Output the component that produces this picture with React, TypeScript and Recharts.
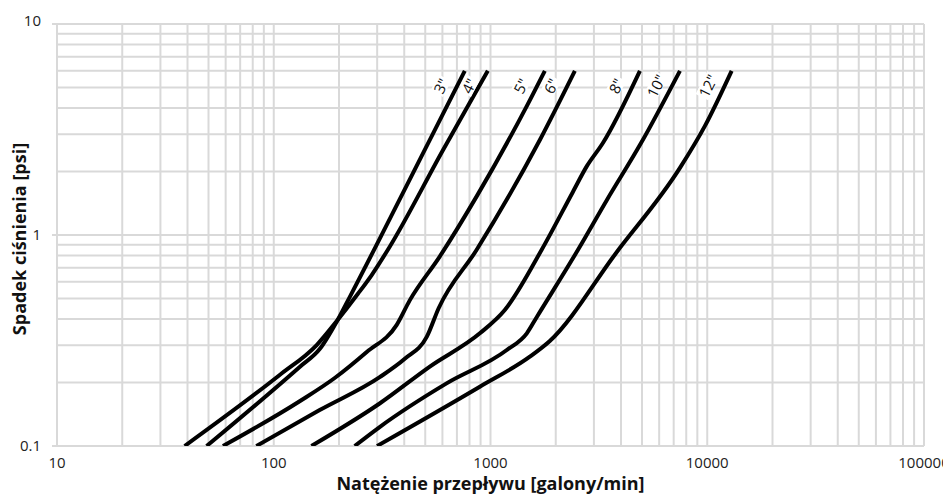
import React from 'react';
import { LineChart, Line, XAxis, YAxis, CartesianGrid } from 'recharts';

const FONT = '"Open Sans", "Noto Sans", sans-serif';

// pipe sizes (labels at the top of each curve)
const SIZES = ['3"', '4"', '5"', '6"', '8"', '10"', '12"'];

// flow [gal/min] and pressure drop [psi]
const FLOW_3 = [49, 131.7, 162.9, 197.2, 224.1, 410.9, 761];
const DROP_3 = [0.1, 0.237, 0.288, 0.396, 0.508, 1.72, 6];

const FLOW_4 = [38.8, 106.5, 157.8, 197.2, 244, 283, 342.8, 604, 972];
const DROP_4 = [0.1, 0.217, 0.301, 0.396, 0.525, 0.646, 0.88, 2.53, 6];

const FLOW_5 = [58.3, 131.7, 191.1, 268.5, 369.3, 424, 583, 862, 1466, 1781];
const DROP_5 = [0.1, 0.163, 0.21, 0.279, 0.375, 0.49, 0.79, 1.52, 4.06, 6];

const FLOW_6 = [83.1, 162.9, 308.2, 402.2, 507.9, 577.1, 862, 1689, 2451];
const DROP_6 = [0.1, 0.148, 0.212, 0.259, 0.329, 0.451, 0.849, 2.82, 6];

const FLOW_8 = [149.2, 308, 525, 893, 1164, 1720, 2399, 2783, 3300, 4890];
const DROP_8 = [0.1, 0.159, 0.238, 0.342, 0.441, 0.849, 1.6, 2.12, 2.73, 6];

const FLOW_10 = [236.3, 308, 627, 1189, 1471, 1636, 2530, 3444, 4942, 7482];
const DROP_10 = [0.1, 0.123, 0.198, 0.285, 0.342, 0.409, 0.849, 1.466, 2.72, 6];

const FLOW_12 = [299.5, 893, 1519, 1878, 3789, 7482, 9759, 12960];
const DROP_12 = [0.1, 0.191, 0.265, 0.3145, 0.82, 2.08, 3.29, 6];

const FLOWS = [FLOW_3, FLOW_4, FLOW_5, FLOW_6, FLOW_8, FLOW_10, FLOW_12];
const DROPS = [DROP_3, DROP_4, DROP_5, DROP_6, DROP_8, DROP_10, DROP_12];

// log grid
const X_TICKS = [
  10, 20, 30, 40, 50, 60, 70, 80, 90,
  100, 200, 300, 400, 500, 600, 700, 800, 900,
  1000, 2000, 3000, 4000, 5000, 6000, 7000, 8000, 9000,
  10000, 20000, 30000, 40000, 50000, 60000, 70000, 80000, 90000,
  100000,
];
const Y_TICKS = [0.1, 0.2, 0.3, 0.4, 0.5, 0.6, 0.7, 0.8, 0.9, 1, 2, 3, 4, 5, 6, 7, 8, 9, 10];
const X_LABELS = [10, 100, 1000, 10000, 100000];
const Y_LABELS = [0.1, 1, 10];

// the 4" tag sits a little closer to its line so it clears the 3" curve
const TAG_NUDGE: Record<string, number> = { '4"': 5 };

const series = SIZES.map((name, i) => ({
  name,
  points: FLOWS[i].map((flow, j) => ({ flow, drop: DROPS[i][j] })),
})).reverse();

const XTick = (props: any) => {
  const { x, y, payload } = props;
  if (!X_LABELS.includes(payload.value)) return <g />;
  return (
    <text x={x} y={y} dy="0.35em" textAnchor="middle" fontSize={15} fill="#222" fontFamily={FONT}>
      {payload.value}
    </text>
  );
};

const YTick = (props: any) => {
  const { x, y, payload } = props;
  if (!Y_LABELS.includes(payload.value)) return <g />;
  const lift = payload.value === 10 ? -3 : 0;
  return (
    <g>
      <line x1={x + 11} x2={x + 16} y1={y} y2={y} stroke="#d9d9d9" strokeWidth={2} />
      <text x={x} y={y + lift} dy="0.35em" textAnchor="end" fontSize={15} fill="#222" fontFamily={FONT}>
        {payload.value}
      </text>
    </g>
  );
};

// size tag drawn at the top end of each curve
const tagDot = (name: string, last: number) => (p: any) => {
  if (p.index !== last) return <g key={`d-${name}-${p.index}`} />;
  const cx = p.cx - 24 + (TAG_NUDGE[name] || 0);
  const cy = p.cy + 15;
  const w = name.length * 7.5 + 3;
  return (
    <g key={`d-${name}-${p.index}`} transform={`translate(${cx},${cy}) rotate(-63)`}>
      <rect x={-w / 2} y={-7} width={w} height={14} fill="#fff" />
      <text textAnchor="middle" dominantBaseline="central" fontSize={15} fill="#111" fontFamily={FONT}>
        {name}
      </text>
    </g>
  );
};

const App = () => {
  return (
    <div style={{ width: 943, height: 490 }}>
      <LineChart width={943} height={490} margin={{ top: 16, right: 27, left: 0, bottom: 0 }}>
        <CartesianGrid stroke="#d9d9d9" strokeWidth={2} />
        <XAxis
          dataKey="flow"
          type="number"
          scale="log"
          domain={[10, 100000]}
          ticks={X_TICKS}
          interval={0}
          allowDataOverflow
          height={52}
          axisLine={false}
          tickLine={false}
          tickSize={0}
          tickMargin={17}
          tick={<XTick />}
          label={{
            value: 'Natężenie przepływu [galony/min]',
            position: 'insideBottom',
            offset: 8,
            style: { fontSize: 18, fontWeight: 700, fill: '#111', fontFamily: FONT },
          }}
        />
        <YAxis
          dataKey="drop"
          type="number"
          scale="log"
          domain={[0.1, 10]}
          ticks={Y_TICKS}
          interval={0}
          allowDataOverflow
          width={49}
          axisLine={false}
          tickLine={false}
          tickSize={0}
          tickMargin={16}
          tick={<YTick />}
          label={{
            content: () => (
              <text
                x={11}
                y={231}
                transform="rotate(-90, 11, 231)"
                textAnchor="middle"
                dominantBaseline="central"
                fontSize={18}
                fontWeight={700}
                fill="#111"
                fontFamily={FONT}
              >
                Spadek ciśnienia [psi]
              </text>
            ),
          }}
        />
        {series.map((s) => (
          <Line
            key={s.name}
            data={s.points}
            dataKey="drop"
            type="monotone"
            stroke="#000"
            strokeWidth={4}
            dot={tagDot(s.name, s.points.length - 1)}
            activeDot={false}
            isAnimationActive={false}
          />
        ))}
      </LineChart>
    </div>
  );
};

export default App;
